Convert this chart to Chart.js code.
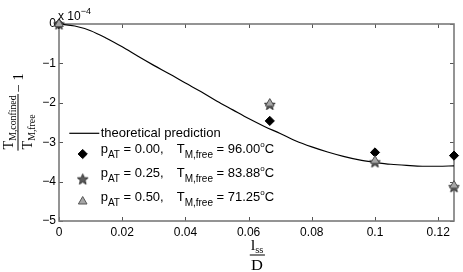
<!DOCTYPE html>
<html><head><meta charset="utf-8">
<script src="https://cdn.jsdelivr.net/npm/chart.js@4/dist/chart.umd.min.js"></script>
<style>
html,body{margin:0;padding:0;background:#fff;}
#wrap{position:relative;width:463px;height:272px;overflow:hidden;background:#fff;}
#c{position:absolute;left:0;top:0;}
.t{position:absolute;white-space:nowrap;font-family:"Liberation Sans",Arial,Helvetica,sans-serif;color:#000;line-height:1;pointer-events:none;}
.lg{font-size:13px;}
.sb{font-size:10px;position:relative;top:5px;}
.sp{font-size:8px;position:relative;top:-6px;}
.m{font-family:"Liberation Serif","Times New Roman",serif;color:#000;position:absolute;white-space:nowrap;line-height:1;pointer-events:none;}
.frac{display:inline-block;vertical-align:middle;text-align:center;}
.frac.l{text-align:left;}
.frac .n{display:block;padding:0 1px 2px 1px;border-bottom:1px solid #000;}
.frac .d{display:block;padding:2px 1px 0 1px;}
.msb{font-size:9.5px;position:relative;top:3px;}
</style>
</head>
<body>
<div id="wrap">
<canvas id="c" width="463" height="272"></canvas>
<div class="t" style="left:58px;top:10px;font-size:12px;">x 10<span style="font-size:9px;position:relative;top:-6px;">−4</span></div>
<div class="t lg" style="left:100.7px;top:125.6px;">theoretical prediction</div>
<div class="t lg" style="left:100.7px;top:141.6px;">p<span class="sb">AT</span> = 0.00,</div>
<div class="t lg" style="left:176.7px;top:141.6px;">T<span class="sb">M,free</span> = 96.00<span class="sp">o</span>C</div>
<div class="t lg" style="left:100.7px;top:166.3px;">p<span class="sb">AT</span> = 0.25,</div>
<div class="t lg" style="left:176.7px;top:166.3px;">T<span class="sb">M,free</span> = 83.88<span class="sp">o</span>C</div>
<div class="t lg" style="left:100.7px;top:190px;">p<span class="sb">AT</span> = 0.50,</div>
<div class="t lg" style="left:176.7px;top:190px;">T<span class="sb">M,free</span> = 71.25<span class="sp">o</span>C</div>
<div class="m" id="ytitle" style="left:18px;top:112px;transform:translate(-50%,-50%) rotate(-90deg) scale(1.03,1);font-size:14px;">
<span class="frac l"><span class="n">T<span class="msb">M,confined</span></span><span class="d">T<span class="msb">M,free</span></span></span><span style="vertical-align:middle;margin-left:2px;">− 1</span>
</div>
<div class="m" id="xtitle" style="left:256.5px;top:255px;transform:translate(-50%,-50%) scale(1.1,1);font-size:15px;">
<span class="frac"><span class="n">l<span class="msb">ss</span></span><span class="d">D</span></span>
</div>
</div>
<script>
// ---- data ----
const xPositions = [0, 0.0667, 0.1, 0.125];
const seriesP000 = [0, -2.46, -3.26, -3.34];
const seriesP025 = [0, -2.04, -3.50, -4.13];
const seriesP050 = [0, -2.02, -3.47, -4.10];
const theoryX = [0, 0.005, 0.01, 0.015, 0.02, 0.025, 0.03, 0.035, 0.04, 0.045, 0.05, 0.055, 0.06, 0.065, 0.07, 0.075, 0.08, 0.085, 0.09, 0.095, 0.1, 0.105, 0.11, 0.115, 0.12, 0.125];
const theoryY = [0, -0.05, -0.17, -0.36, -0.58, -0.82, -1.05, -1.27, -1.50, -1.72, -1.96, -2.18, -2.40, -2.60, -2.78, -2.97, -3.12, -3.25, -3.36, -3.45, -3.51, -3.56, -3.59, -3.61, -3.61, -3.60];
const xTicks = [0, 0.02, 0.04, 0.06, 0.08, 0.1, 0.12];
const xTickLabels = ['0', '0.02', '0.04', '0.06', '0.08', '0.1', '0.12'];
const yTicks = [-5, -4, -3, -2, -1, 0];
const yTickLabels = ['−5', '−4', '−3', '−2', '−1', '0'];
const seriesNames = ['theoretical prediction', 'pAT = 0.00', 'pAT = 0.25', 'pAT = 0.50'];

function pts(xs, ys){ return xs.map((x,i)=>({x:x, y:ys[i]})); }

function makeStar(size, fill, stroke){
  const c = document.createElement('canvas'); c.width = size; c.height = size;
  const g = c.getContext('2d');
  const cx = size/2, cy = size/2 + 0.6, R = size/2 - 0.8, r = R*0.42;
  g.beginPath();
  for (let i=0;i<10;i++){ const a = -Math.PI/2 + i*Math.PI/5; const rr = i%2 ? r : R; g.lineTo(cx+rr*Math.cos(a), cy+rr*Math.sin(a)); }
  g.closePath(); g.fillStyle = fill; g.fill(); g.strokeStyle = stroke; g.lineWidth = 1; g.stroke();
  return c;
}
const starImg = makeStar(13, '#5c5c5c', '#303030');

const AXIS = '#7a7a7a';
const boxPlugin = {
  id: 'box',
  beforeDatasetsDraw(chart){
    const {ctx, chartArea:a, scales} = chart;
    ctx.save();
    ctx.strokeStyle = '#555';
    ctx.lineWidth = 1;
    const L = 4;
    xTicks.forEach(v=>{ const px = Math.round(scales.x.getPixelForValue(v))+0.5;
      ctx.beginPath(); ctx.moveTo(px, a.bottom); ctx.lineTo(px, a.bottom-L); ctx.moveTo(px, a.top); ctx.lineTo(px, a.top+L); ctx.stroke(); });
    yTicks.forEach(v=>{ const py = Math.round(scales.y.getPixelForValue(v))+0.5;
      ctx.beginPath(); ctx.moveTo(a.left, py); ctx.lineTo(a.left+L, py); ctx.moveTo(a.right, py); ctx.lineTo(a.right-L, py); ctx.stroke(); });
    ctx.strokeStyle = AXIS; ctx.lineWidth = 1.6;
    ctx.strokeRect(a.left, a.top, a.right-a.left, a.bottom-a.top);
    ctx.restore();
  },
  afterDatasetsDraw(chart){
    const ctx = chart.ctx;
    const ds = chart.data.datasets;
    ctx.save();
    ctx.strokeStyle = '#000'; ctx.lineWidth = 1.2;
    ctx.beginPath(); ctx.moveTo(69.3, 133.3); ctx.lineTo(99.3, 133.3); ctx.stroke();
    const rows = [[1,154],[2,179],[3,201.5]];
    rows.forEach(([i,y])=>{
      const d = ds[i];
      ctx.fillStyle = d.backgroundColor; ctx.strokeStyle = d.borderColor; ctx.lineWidth = d.borderWidth;
      Chart.helpers.drawPoint(ctx, {pointStyle:d.pointStyle, radius:d.pointRadius, rotation:0, borderWidth:d.borderWidth}, 82.7, y);
    });
    ctx.restore();
  }
};

new Chart(document.getElementById('c'), {
  type: 'scatter',
  data: {
    datasets: [
      {label: seriesNames[0], type:'line', data: pts(theoryX, theoryY), borderColor:'#000', borderWidth:1.2, pointRadius:0, fill:false, cubicInterpolationMode:'monotone', order:4, clip:false},
      {label: seriesNames[1], data: pts(xPositions, seriesP000), pointStyle:'rectRot', pointRadius:4.6, backgroundColor:'#000', borderColor:'#000', borderWidth:1, order:3, clip:false},
      {label: seriesNames[2], data: pts(xPositions, seriesP025), pointStyle:starImg, pointRadius:6, backgroundColor:'#5c5c5c', borderColor:'#303030', borderWidth:1, order:2, clip:false},
      {label: seriesNames[3], data: pts(xPositions, seriesP050), pointStyle:'triangle', pointRadius:5, backgroundColor:'#a6a6a6', borderColor:'#555', borderWidth:1, order:1, clip:false}
    ]
  },
  options: {
    responsive:false, animation:false, devicePixelRatio:1,
    layout:{padding:{top:24, right:9, left:0, bottom:0}},
    plugins:{legend:{display:false}, tooltip:{enabled:false}},
    scales:{
      x:{type:'linear', min:0, max:0.125,
        afterBuildTicks(s){ s.ticks = xTicks.map(v=>({value:v})); },
        afterFit(s){ s.height = 51; },
        grid:{display:false, drawTicks:false}, border:{display:false},
        ticks:{color:'#000', padding:4, maxRotation:0, autoSkip:false, font:{family:'"Liberation Sans", Arial, sans-serif', size:12}, callback:(v,i)=>xTickLabels[i]}
      },
      y:{type:'linear', min:-5, max:0,
        afterBuildTicks(s){ s.ticks = yTicks.map(v=>({value:v})); },
        afterFit(s){ s.width = 59; },
        grid:{display:false, drawTicks:false}, border:{display:false},
        ticks:{color:'#000', padding:3, autoSkip:false, font:{family:'"Liberation Sans", Arial, sans-serif', size:12}, callback:(v,i)=>yTickLabels[i]}
      }
    }
  },
  plugins:[boxPlugin]
});
</script>
</body></html>
